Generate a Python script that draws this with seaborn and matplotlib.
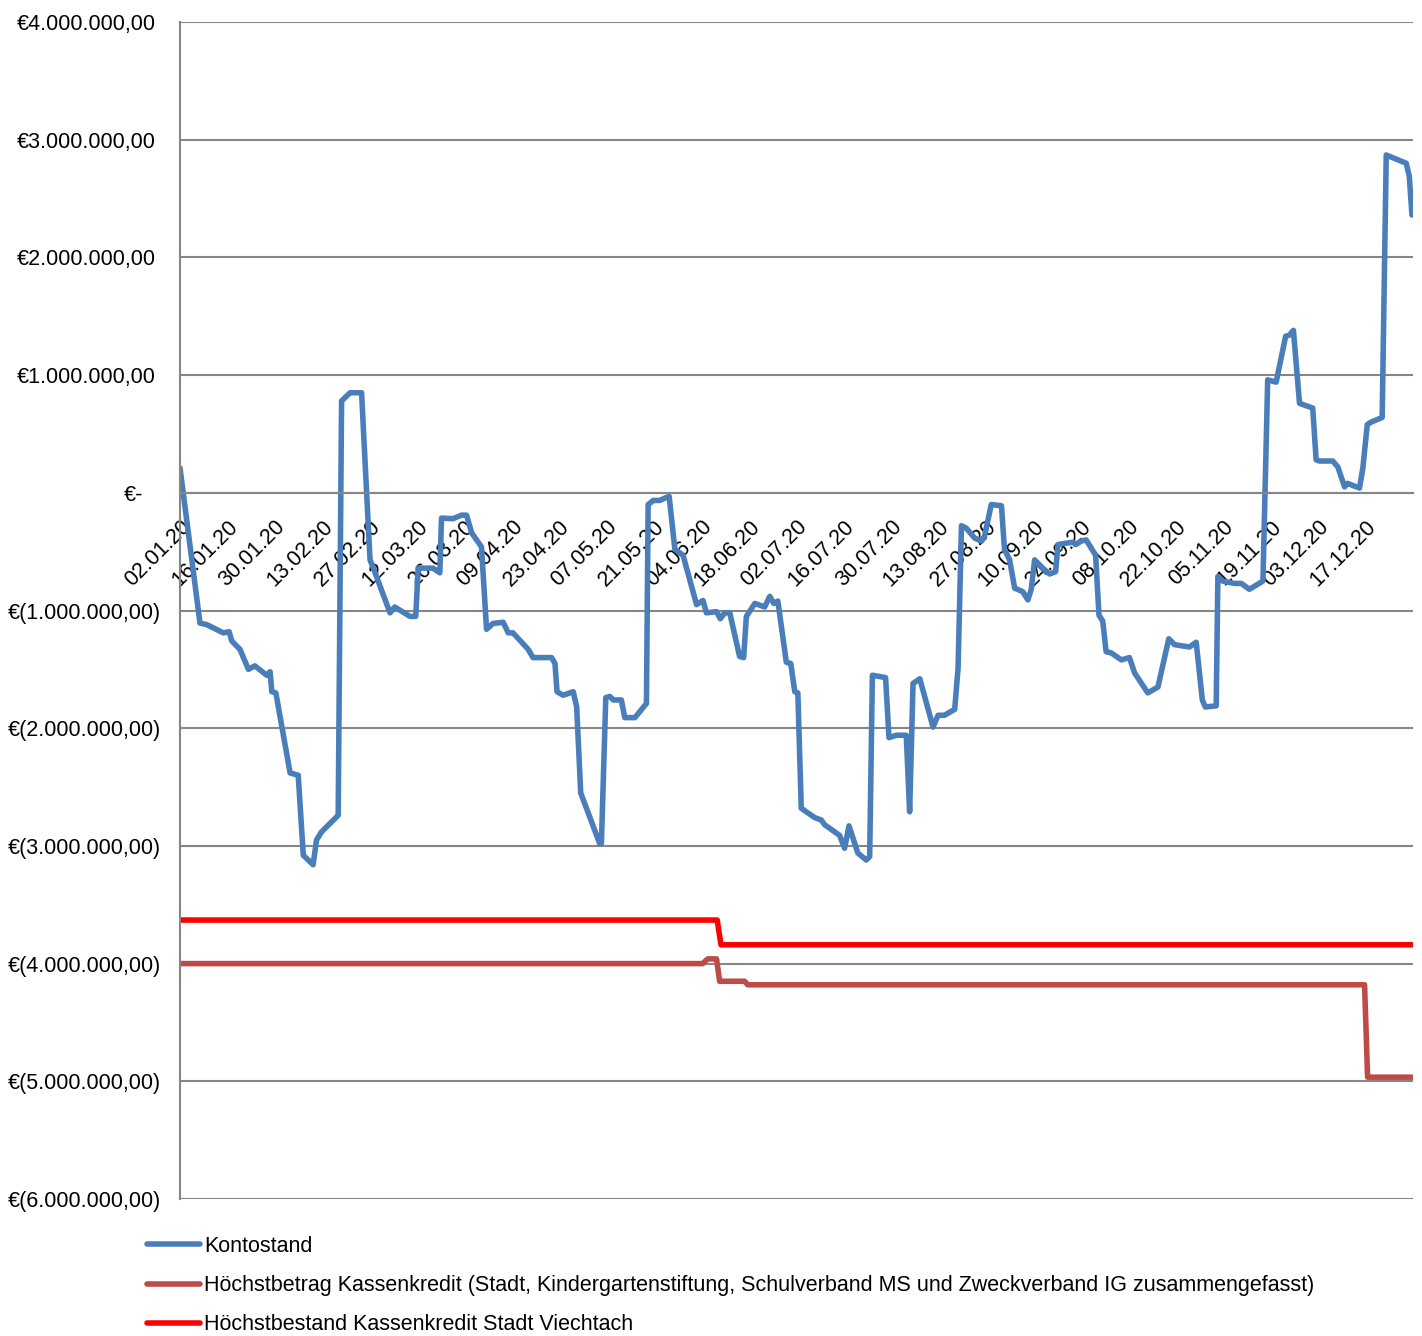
import numpy as np
import pandas as pd
import matplotlib
matplotlib.use("Agg")
import matplotlib.pyplot as plt
import matplotlib.transforms as mtransforms
import seaborn as sns

# ---------------- data (values in millions of EUR, x = days after 02.01.2020) ----------------
konto_days = [0, 5.9, 7.9, 12.8, 14.5, 15.3, 17.7, 20.2, 22.1, 25.6, 26.6, 27.1, 28.3, 32.5, 34.9,
              36.4, 39.3, 40.3, 41.8, 46.7, 47.7, 50.2, 53.6, 56.1, 57.2, 62.0, 63.4, 67.9, 69.6,
              70.3, 74.7, 76.7, 77.2, 80.6, 83.1, 84.6, 86.1, 89.0, 90.5, 92.4, 95.4, 96.9, 98.3,
              102.8, 104.2, 109.7, 110.7, 111.3, 113.1, 116.1, 117.1, 118.3, 123.9, 124.4, 125.7,
              126.9, 127.9, 130.3, 131.3, 134.3, 137.7, 138.2, 139.7, 141.6, 144.4, 146.1, 148.5,
              152.5, 154.4, 155.4, 158.4, 159.5, 160.8, 162.3, 165.2, 166.4, 167.2, 169.7, 172.6,
              174.1, 175.3, 176.5, 179.0, 180.3, 181.5, 182.4, 183.4, 187.4, 189.3, 190.3, 194.7,
              196.2, 197.5, 200.1, 202.6, 203.6, 204.4, 208.3, 209.3, 211.5, 214.4, 215.4, 216.4,
              218.4, 222.3, 223.8, 225.7, 228.7, 229.7, 230.7, 232.1, 234.6, 236.6, 237.5, 239.5,
              242.5, 243.4, 244.9, 246.4, 248.8, 250.3, 251.3, 252.3, 254.7, 256.7, 258.5, 259.2,
              261.1, 263.6, 264.4, 266.1, 267.5, 270.3, 271.3, 272.4, 273.4, 274.9, 277.9, 280.3,
              281.8, 285.7, 288.7, 291.9, 293.6, 298.0, 300.0, 301.8, 302.7, 305.9, 306.4, 307.8,
              311.3, 313.3, 315.7, 319.7, 321.1, 323.6, 326.4, 327.5, 328.7, 329.5, 330.5, 334.4,
              335.4, 336.4, 340.3, 341.8, 343.8, 344.7, 348.2, 349.2, 350.5, 351.6, 354.9, 356.1,
              362.0, 362.9, 363.7]
konto_mio = [0.21, -1.107, -1.12, -1.19, -1.18, -1.26, -1.33, -1.50, -1.47, -1.55, -1.52, -1.69, -1.70,
             -2.38, -2.40, -3.08, -3.16, -2.95, -2.88, -2.74, 0.78, 0.85, 0.85, -0.57, -0.65, -1.02,
             -0.97, -1.05, -1.05, -0.64, -0.64, -0.68, -0.215, -0.22, -0.19, -0.19, -0.34, -0.46,
             -1.16, -1.11, -1.10, -1.19, -1.19, -1.33, -1.40, -1.40, -1.45, -1.69, -1.72, -1.69,
             -1.82, -2.55, -2.98, -2.98, -1.74, -1.73, -1.76, -1.76, -1.91, -1.91, -1.79, -0.10,
             -0.065, -0.065, -0.03, -0.48, -0.53, -0.95, -0.915, -1.02, -1.01, -1.07, -1.02, -1.02,
             -1.39, -1.40, -1.05, -0.94, -0.97, -0.88, -0.94, -0.92, -1.44, -1.45, -1.69, -1.70,
             -2.68, -2.76, -2.78, -2.82, -2.91, -3.02, -2.83, -3.06, -3.12, -3.09, -1.55, -1.57,
             -2.08, -2.06, -2.06, -2.71, -1.62, -1.58, -1.99, -1.89, -1.89, -1.84, -1.49, -0.28,
             -0.30, -0.385, -0.41, -0.37, -0.10, -0.11, -0.48, -0.57, -0.81, -0.84, -0.91, -0.82,
             -0.57, -0.64, -0.69, -0.67, -0.44, -0.43, -0.42, -0.44, -0.41, -0.40, -0.53, -1.04,
             -1.09, -1.35, -1.36, -1.42, -1.40, -1.53, -1.70, -1.65, -1.24, -1.29, -1.31, -1.27,
             -1.76, -1.82, -1.81, -0.71, -0.75, -0.77, -0.77, -0.82, -0.75, 0.96, 0.94, 1.33,
             1.34, 1.38, 1.10, 0.76, 0.72, 0.28, 0.27, 0.27, 0.22, 0.05, 0.08, 0.04, 0.21, 0.58,
             0.60, 0.64, 2.87, 2.80, 2.69, 2.36]

hoechstbetrag_days = [0, 154.3, 155.8, 158.4, 159.3, 166.7, 167.6, 349.7, 350.6, 363.8]
hoechstbetrag_mio = [-4.00, -4.00, -3.96, -3.96, -4.15, -4.15, -4.18, -4.18, -4.965, -4.965]

hoechstbestand_days = [0, 158.6, 159.7, 363.8]
hoechstbestand_mio = [-3.63, -3.63, -3.84, -3.84]

series_names = ["Kontostand",
                "Höchstbetrag Kassenkredit (Stadt, Kindergartenstiftung, Schulverband MS und Zweckverband IG zusammengefasst)",
                "Höchstbestand Kassenkredit Stadt Viechtach"]
series_colors = ["#4A7EBB", "#BE4B48", "#FF0000"]

x_tick_labels = ["02.01.20", "16.01.20", "30.01.20", "13.02.20", "27.02.20", "12.03.20", "26.03.20",
                 "09.04.20", "23.04.20", "07.05.20", "21.05.20", "04.06.20", "18.06.20", "02.07.20",
                 "16.07.20", "30.07.20", "13.08.20", "27.08.20", "10.09.20", "24.09.20", "08.10.20",
                 "22.10.20", "05.11.20", "19.11.20", "03.12.20", "17.12.20", ""]
y_ticks_mio = [-6, -5, -4, -3, -2, -1, 0, 1, 2, 3, 4]

# ---------------- build frame ----------------
start = pd.Timestamp("2020-01-02")
def to_dates(days):
    return start + pd.to_timedelta(np.array(days, dtype=float), unit="D")

frames = []
for name, d, v in [(series_names[0], konto_days, konto_mio),
                   (series_names[1], hoechstbetrag_days, hoechstbetrag_mio),
                   (series_names[2], hoechstbestand_days, hoechstbestand_mio)]:
    frames.append(pd.DataFrame({"Datum": to_dates(d), "Wert": np.array(v) * 1e6, "Reihe": name}))
df = pd.concat(frames, ignore_index=True)

# ---------------- style ----------------
sns.set_style("white")
plt.rcParams["font.family"] = ["Liberation Sans", "DejaVu Sans"]
FS = 15.5

fig = plt.figure(figsize=(14.22, 13.36), dpi=100)
ax = fig.add_axes([180 / 1422, 1 - 1199 / 1336, (1413 - 180) / 1422, (1199 - 22) / 1336])

sns.lineplot(data=df, x="Datum", y="Wert", hue="Reihe", hue_order=series_names,
             palette=series_colors, linewidth=4.0, sort=False, estimator=None,
             ax=ax, legend=True)
for ln in ax.lines:
    ln.set_solid_joinstyle("round")
    ln.set_solid_capstyle("round")

# spines first (set_position resets tick properties)
ax.spines["bottom"].set_position(("data", 0))
for s in ["top", "right"]:
    ax.spines[s].set_visible(False)
for s in ["left", "bottom"]:
    ax.spines[s].set_color("#868686")
    ax.spines[s].set_linewidth(1.5)

# axes limits
ax.set_xlim(start, pd.Timestamp("2020-12-31"))
ax.set_ylim(-6e6, 4e6)

# y ticks/grid
def euro(v):
    if abs(v) < 1:
        return "€-"
    s = f"{abs(v):,.2f}".replace(",", "X").replace(".", ",").replace("X", ".")
    return f"€({s})" if v < 0 else f"€{s}"

ax.set_yticks([t * 1e6 for t in y_ticks_mio])
ax.set_yticklabels([euro(t * 1e6) for t in y_ticks_mio], fontsize=FS, color="black")
ax.yaxis.grid(True, color="#868686", linewidth=1.5)
ax.set_axisbelow(True)

# x ticks
xt = list(pd.date_range(start, periods=26, freq="14D")) + [pd.Timestamp("2020-12-31")]
ax.set_xticks(xt)
ax.set_xticklabels(x_tick_labels, fontsize=FS, rotation=45, ha="right", va="top",
                   rotation_mode="anchor", color="black")

ax.tick_params(axis="both", direction="out", length=5, width=1.5, color="#868686")
ax.tick_params(axis="x", pad=12)
ax.tick_params(axis="y", pad=9)
ax.set_xlabel("")
ax.set_ylabel("")

# accounting-style alignment: positive values / zero leave room for the closing parenthesis
for lab, t in zip(ax.get_yticklabels(), y_ticks_mio):
    if t > 0:
        dx = -5
    elif t == 0:
        dx = -17
    else:
        dx = 0
    if dx:
        lab.set_transform(lab.get_transform() +
                          mtransforms.ScaledTranslation(dx / 100, 0, fig.dpi_scale_trans))

# legend
handles, labels = ax.get_legend_handles_labels()
ax.get_legend().remove()
fig.legend(handles, labels, loc="upper left", bbox_to_anchor=(147 / 1422, 1 - 1236 / 1336),
           frameon=False, fontsize=FS, handlelength=2.45, handletextpad=0.2,
           labelspacing=0.84, borderpad=0, borderaxespad=0, labelcolor="black")

fig.savefig("out.png", dpi=100)
